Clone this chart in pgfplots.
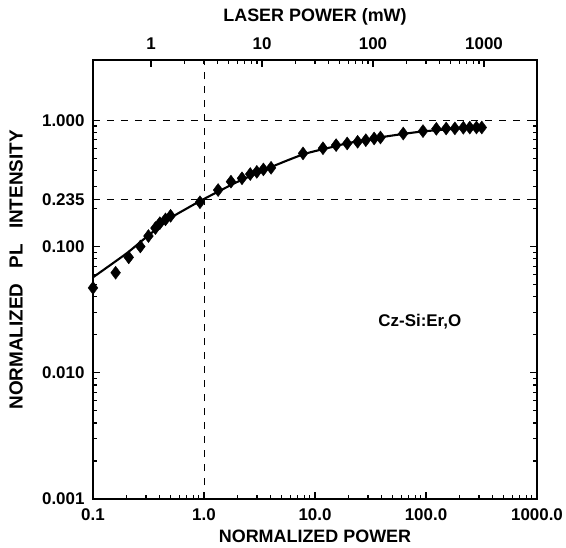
\documentclass[border=0pt]{standalone}
\usepackage{fontspec}
\setmainfont{Liberation Sans}
\usepackage{pgfplots}
\usepackage{pgfplotstable}
\pgfplotsset{compat=1.18}

% measured points: normalized power, normalized PL intensity
\pgfplotstableread{
x      y
0.10   0.047
0.16   0.062
0.21   0.082
0.267  0.100
0.316  0.121
0.365  0.140
0.40   0.153
0.45   0.164
0.50   0.175
0.92   0.224
1.34   0.280
1.75   0.326
2.20   0.347
2.61   0.375
2.99   0.390
3.43   0.408
4.02   0.420
7.8    0.546
11.8   0.600
15.5   0.635
19.5   0.655
24.2   0.675
28.7   0.695
34.1   0.717
38.9   0.730
62.4   0.785
94     0.820
124    0.855
152    0.860
182    0.862
217    0.872
248    0.875
285    0.876
318    0.876
}\measured

% fitted curve
\pgfplotstableread{
x      y
0.10   0.057
0.20   0.088
0.30   0.118
0.50   0.168
0.70   0.200
1.00   0.238
2.00   0.325
4.00   0.425
8.00   0.540
15     0.620
20     0.660
40     0.735
70     0.790
100    0.820
200    0.860
330    0.880
}\fitcurve

\pgfplotsset{
  every axis/.append style={
    tick label style={font=\fontsize{17}{20}\selectfont\bfseries},
    label style={font=\fontsize{18}{21}\selectfont\bfseries},
    axis line style={line width=1.8bp},
    every tick/.style={black, line width=1.1bp},
    major tick length=7.5bp,
    minor tick length=4bp,
    tick align=inside,
  },
}

\begin{document}
\begin{tikzpicture}
\begin{axis}[
  name=main,
  width=444bp, height=439bp, scale only axis,
  xmode=log, ymode=log,
  xmin=0.1, xmax=1000, ymin=0.001, ymax=3,
  xtick={0.1,1,10,100,1000},
  xticklabels={\textbf{0.1},\textbf{1.0},\textbf{10.0},\textbf{100.0},\textbf{1000.0}},
  ytick={0.001,0.01,0.1,1},
  yticklabels={\textbf{0.001},\textbf{0.010},\textbf{0.100},\textbf{1.000}},
  extra y ticks={0.235},
  extra y tick labels={\textbf{0.235}},
  xtick pos=left, xticklabel pos=left,
  xticklabel style={yshift=-6bp},
  yticklabel style={xshift=-5bp},
  xlabel={NORMALIZED POWER},
  ylabel={NORMALIZED\hspace{0.8em}PL\hspace{0.8em}INTENSITY},
  xlabel style={at={(axis description cs:0.5,0)}, anchor=north, yshift=-27bp},
  ylabel style={font=\fontsize{19}{22}\selectfont\bfseries,
    at={(axis description cs:-0.196,0.522)}, anchor=north},
  clip=false,
]
\addplot[black, line width=0.8bp, dash pattern=on 7bp off 7bp] coordinates {(0.1,1) (1000,1)};
\addplot[black, line width=0.8bp, dash pattern=on 7bp off 7bp] coordinates {(0.1,0.235) (1000,0.235)};
\addplot[black, line width=0.8bp, dash pattern=on 7bp off 7bp] coordinates {(1,0.001) (1,3)};
\addplot[black, line width=2.1bp, smooth, tension=0.4] table[x=x, y=y] {\fitcurve};
\addplot[only marks, mark=diamond*, mark size=6.5bp, black] table[x=x, y=y] {\measured};
\node[font=\fontsize{17}{20}\selectfont\bfseries] at (axis cs:88,0.0255) {Cz-Si:Er,O};
\end{axis}
\begin{axis}[
  width=444bp, height=439bp, scale only axis,
  xmode=log,
  xmin=0.3, xmax=3000, ymin=0, ymax=1,
  axis x line*=top,
  hide y axis,
  xtick={1,10,100,1000},
  xticklabels={\textbf{1},\textbf{10},\textbf{100},\textbf{1000}},
  xticklabel style={yshift=7bp},
  xlabel={LASER POWER (mW)},
  xlabel style={yshift=5bp},
]
\end{axis}
\pgfresetboundingbox
\path[use as bounding box] (main.south west) ++(-93bp,-49bp) rectangle ++(566bp,548bp);
\end{tikzpicture}
\end{document}
